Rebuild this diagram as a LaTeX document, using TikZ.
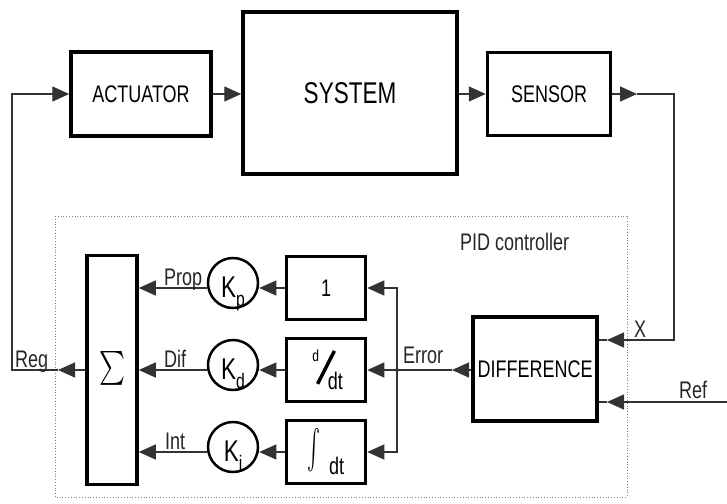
\documentclass[tikz,border=0pt]{standalone}
\usepackage{fontspec}
\setmainfont{Liberation Sans}[FakeStretch=0.75]
\usetikzlibrary{arrows.meta,positioning}

\tikzset{
  blk/.style={draw, line width=3.5pt, inner sep=0pt, font=\fontsize{24}{27}\selectfont},
  gain/.style={draw, circle, line width=2.5pt, minimum size=50pt, inner sep=0pt,
    text height=28pt, text depth=0pt, font=\fontsize{30}{33}\selectfont},
  wire/.style={line width=1.2pt, draw=black!80},
  flow/.style={wire, -{Triangle[length=17pt,width=15pt]}},
  lbl/.style={inner sep=0pt, anchor=base west, font=\fontsize{24}{27}\selectfont, text=black!85},
}
\newcommand{\gainsub}[1]{K\raisebox{-9pt}{\fontsize{21}{21}\selectfont #1}}

\begin{document}
\begin{tikzpicture}[x=1pt,y=-1pt]
  \useasboundingbox (0,0) rectangle (727,503);

  % plant
  \node[blk, minimum width=140pt, minimum height=84pt] (act) at (141,94) {ACTUATOR};
  \node[blk, minimum width=214pt, minimum height=162pt, font=\fontsize{30}{33}\selectfont] (sys) at (350,93) {SYSTEM};
  \node[blk, minimum width=123pt, minimum height=83pt] (sen) at (549,94) {SENSOR};

  % controller frame
  \draw[dotted, gray, line width=0.8pt] (55,216) rectangle (627,497);
  \node[lbl] (pid) at (460,250) {PID controller};

  \node[blk, minimum width=50pt, minimum height=229pt] (sig) at (112,370) {\resizebox{26pt}{38pt}{$\sum$}};
  \node[gain] (kp) at (233,283) {\gainsub{p}};
  \node[gain] (kd) at (233,365) {\gainsub{d}};
  \node[gain] (ki) at (233,447) {\gainsub{i}};
  \node[blk, minimum width=79pt, minimum height=63pt] (one) at (326,288) {1};
  \node[blk, minimum width=79pt, minimum height=63pt] (ddt) at (326,370)
    {\llap{\raisebox{23pt}{\fontsize{16}{16}\selectfont d}\kern-3pt}\rotatebox{63}{\rule{37pt}{3.5pt}}\rlap{\kern-8pt\raisebox{-5pt}{dt}}};
  \node[blk, minimum width=79pt, minimum height=63pt] (intg) at (326,452)
    {\resizebox*{13pt}{46pt}{$\int$}\hspace{8pt}dt};
  \node[blk, minimum width=124pt, minimum height=104pt] (diff) at (535,369) {DIFFERENCE};

  \coordinate (jn) at (397,370);
  \coordinate (err) at (452,370);
  \coordinate (xin) at (607,340);
  \coordinate (refin) at (607,402);
  \coordinate (refsrc) at (727,402);
  \coordinate (senout) at (637,94);
  \coordinate (xcorner) at (674,94);
  \coordinate (regout) at (58,370);
  \coordinate (fbl) at (12,370);

  % forward path
  \draw[flow] (act.east) -- (act.east -| sys.west);
  \draw[flow] (sys.east |- sen.west) -- (sen.west);
  \draw[flow] (sen.east) -- (senout);
  \draw[flow] (senout) -- (xcorner) |- (xin);
  \draw[wire] (xin) -- (xin -| diff.east);
  \draw[flow] (refsrc) -- (refin);
  \draw[wire] (refin) -- (refin -| diff.east);

  % error split
  \draw[flow] (err -| diff.west) -- (err);
  \draw[wire] (err) -- (jn);
  \fill[black!80] (jn) circle (2pt);
  \draw[flow] (jn) |- (one.east);
  \draw[flow] (jn) -- (ddt.east);
  \draw[flow] (jn) |- (intg.east);

  \draw[flow] (one.west) -- (one.west -| kp.east);
  \draw[flow] (ddt.west) -- (ddt.west -| kd.east);
  \draw[flow] (intg.west) -- (intg.west -| ki.east);
  \draw[flow] (one.west -| kp.west) -- (one.west -| sig.east);
  \draw[flow] (ddt.west -| kd.west) -- (ddt.west -| sig.east);
  \draw[flow] (intg.west -| ki.west) -- (intg.west -| sig.east);

  % feedback
  \draw[flow] (regout -| sig.west) -- (regout);
  \draw[flow] (regout) -- (fbl) |- (act.west);

  % labels
  \node[lbl] (reg) at (15,367) {Reg};
  \node[lbl] (prop) at (164,285) {Prop};
  \node[lbl] (dif) at (164,367) {Dif};
  \node[lbl] (int) at (165,449) {Int};
  \node[lbl] (errlbl) at (403,363) {Error};
  \node[lbl] (xlbl) at (634,337) {X};
  \node[lbl] (reflbl) at (679,398) {Ref};
\end{tikzpicture}
\end{document}
